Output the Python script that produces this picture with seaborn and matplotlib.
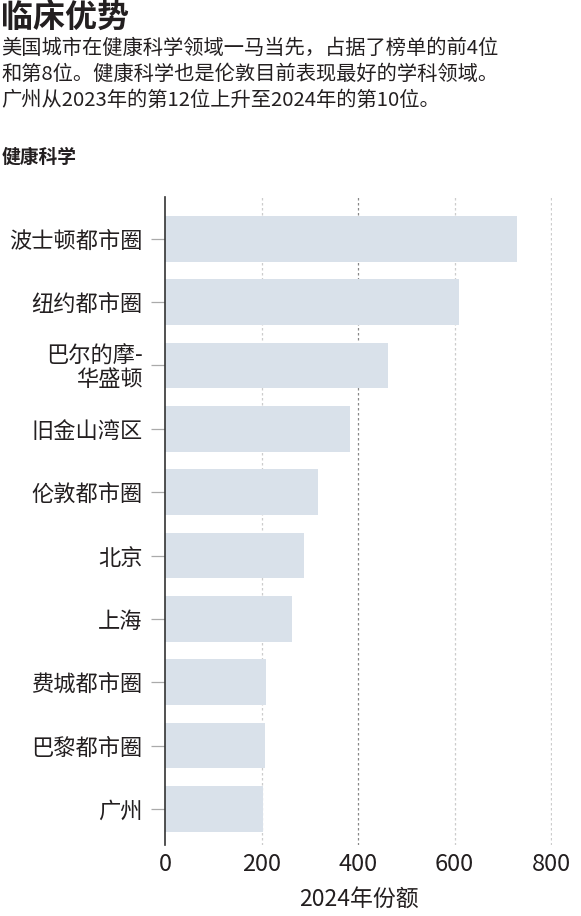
import pandas as pd
import seaborn as sns
import matplotlib.pyplot as plt

sns.set_theme(style='white')
plt.rcParams['font.family'] = ['Noto Sans CJK SC', 'DejaVu Sans']

cities = ['波士顿都市圈', '纽约都市圈', '巴尔的摩-\n华盛顿', '旧金山湾区',
          '伦敦都市圈', '北京', '上海', '费城都市圈', '巴黎都市圈', '广州']
share_2024 = [730, 610, 463, 383, 318, 288, 263, 209, 207, 203]
x_ticks = [0, 200, 400, 600, 800]

TEXT = '#231f20'
BAR = '#d9e1ea'


def main():
    data = pd.DataFrame({'城市': cities, '份额': share_2024})

    fig = plt.figure(figsize=(5.81, 9.16), dpi=100)
    ax = fig.add_axes([165 / 581, 1 - 845 / 916, 387 / 581, 648 / 916])

    sns.barplot(data=data, x='份额', y='城市', color=BAR, saturation=1,
                width=0.72, edgecolor='none', ax=ax, zorder=2)

    ax.set_xlim(0, 802)
    ax.set_ylim(9.57, -0.66)
    ax.set_xticks(x_ticks)
    ax.set_xticklabels([str(t) for t in x_ticks], fontsize=17, color=TEXT)
    for t in x_ticks[1:]:
        c = '#888888' if t == 400 else '#cccccc'
        ax.axvline(t, color=c, lw=0.9, ls=(0, (2, 2)), zorder=1)

    ax.tick_params(axis='x', length=0, pad=6)
    ax.tick_params(axis='y', length=10, width=0.9, color='#aaaaaa',
                   pad=6, labelsize=16, labelcolor=TEXT, left=True)
    for lbl in ax.get_yticklabels():
        lbl.set_multialignment('right')
        lbl.set_linespacing(1.0)

    for side in ['top', 'right', 'bottom']:
        ax.spines[side].set_visible(False)
    ax.spines['left'].set_color('#333333')
    ax.spines['left'].set_linewidth(1.2)

    ax.set_ylabel('')
    ax.set_xlabel('2024年份额', fontsize=16.5, color=TEXT, labelpad=8)

    fig.text(0.002, 1 - 2 / 916, '临床优势', fontsize=23, fontweight='bold',
             color=TEXT, va='top')
    sub = ('美国城市在健康科学领域一马当先，占据了榜单的前4位\n'
           '和第8位。健康科学也是伦敦目前表现最好的学科领域。\n'
           '广州从2023年的第12位上升至2024年的第10位。')
    fig.text(0.002, 1 - 38 / 916, sub, fontsize=14.6, color=TEXT, va='top',
             linespacing=1.3)
    fig.text(0.002, 1 - 148 / 916, '健康科学', fontsize=13.5,
             fontweight='bold', color=TEXT, va='top')

    fig.savefig('out.png', dpi=100)


if __name__ == '__main__':
    main()
